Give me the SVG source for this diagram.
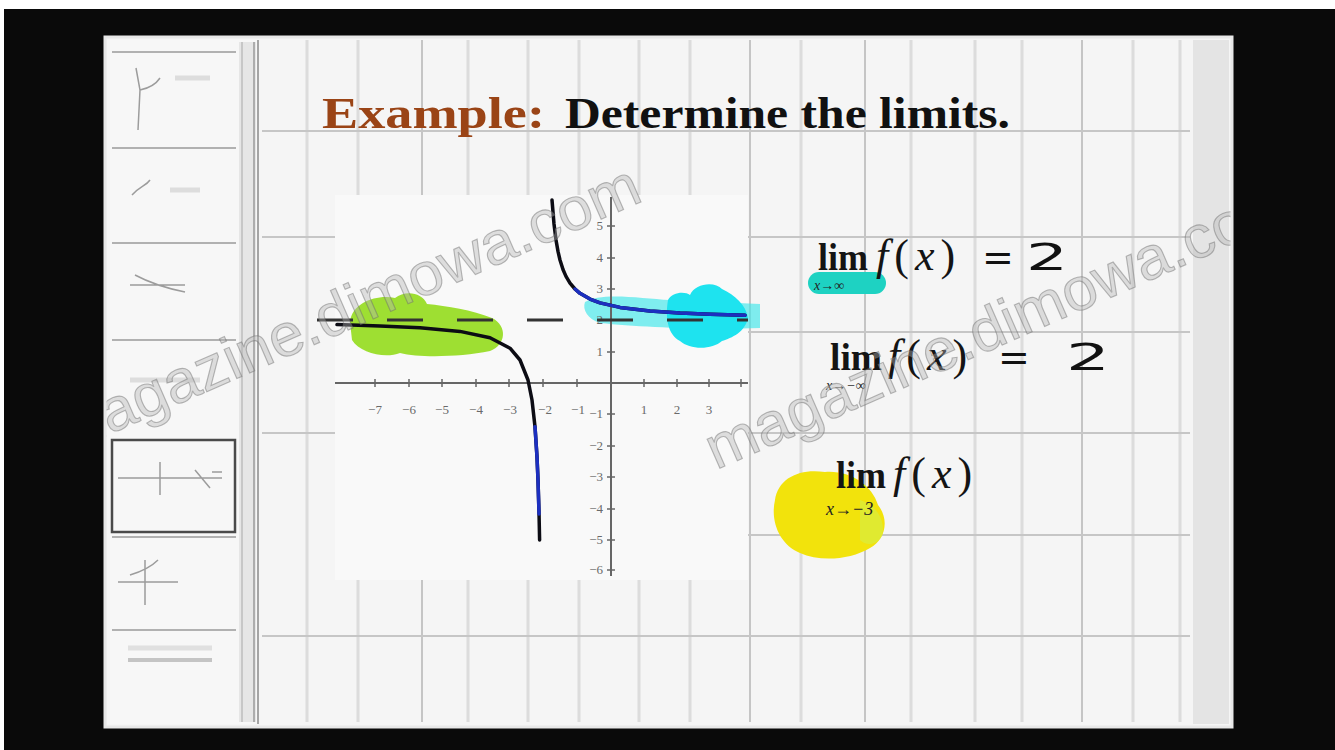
<svg xmlns="http://www.w3.org/2000/svg" width="1335" height="750" viewBox="0 0 1335 750">
<style>
.vline{stroke:#dcdcdc;stroke-width:3}
.vdark{stroke:#b4b4b4;stroke-width:1.5}
.hline{stroke:#c6c6c6;stroke-width:2}
.sep{stroke:#9a9a9a;stroke-width:1.5}
.sk{stroke:#9c9c9c;stroke-width:1.5;fill:none}
.tick{font-family:"Liberation Serif",serif;font-size:13px;fill:#6a6a6a}
.lim{font-family:"Liberation Serif",serif;font-weight:bold;font-size:38px;fill:#141414}
.fx{font-family:"Liberation Serif",serif;font-size:44px;fill:#141414;letter-spacing:6px}
.it{font-style:italic}
.hand{font-family:"DejaVu Sans",sans-serif;font-size:38px;fill:#111}
.sub{font-family:"Liberation Serif",serif;font-style:italic;font-size:18px;fill:#222}
.curve{fill:none;stroke:#0c0c14;stroke-width:3.5;stroke-linejoin:round;stroke-linecap:round}
.blue{fill:none;stroke:#1c2fc0;stroke-width:3.5;stroke-linejoin:round;stroke-linecap:round}
.wm{font-family:"Liberation Sans",sans-serif;font-size:60px;fill:#b4b4b4;fill-opacity:0.4;stroke:#6a6a6a;stroke-opacity:0.45;stroke-width:1.1}
</style>
<defs>
<clipPath id="frame"><rect x="105" y="37" width="1127" height="690"/></clipPath>
</defs>
<rect width="1335" height="750" fill="#ffffff"/>
<rect x="4" y="9" width="1331" height="741" fill="#0a0a0a"/>
<g id="screen">
<rect x="105" y="37" width="1127" height="690" fill="#f5f5f5"/>
<rect x="1193" y="40" width="36" height="684" fill="#e4e4e4"/>
<g id="grid">
<line class="vline" x1="307" y1="40" x2="307" y2="722"/>
<line class="vline" x1="358" y1="40" x2="358" y2="722"/>
<line class="vdark" x1="422" y1="40" x2="422" y2="722"/>
<line class="vline" x1="468" y1="40" x2="468" y2="722"/>
<line class="vline" x1="528" y1="40" x2="528" y2="722"/>
<line class="vline" x1="579" y1="40" x2="579" y2="722"/>
<line class="vline" x1="639" y1="40" x2="639" y2="722"/>
<line class="vline" x1="690" y1="40" x2="690" y2="722"/>
<line class="vdark" x1="750" y1="40" x2="750" y2="722"/>
<line class="vline" x1="801" y1="40" x2="801" y2="722"/>
<line class="vdark" x1="865" y1="40" x2="865" y2="722"/>
<line class="vline" x1="911" y1="40" x2="911" y2="722"/>
<line class="vline" x1="975" y1="40" x2="975" y2="722"/>
<line class="vline" x1="1022" y1="40" x2="1022" y2="722"/>
<line class="vdark" x1="1082" y1="40" x2="1082" y2="722"/>
<line class="vline" x1="1133" y1="40" x2="1133" y2="722"/>
<line class="vline" x1="1180" y1="40" x2="1180" y2="722"/>
<line class="hline" x1="262" y1="131" x2="1190" y2="131"/>
<line class="hline" x1="262" y1="237" x2="335" y2="237"/>
<line class="hline" x1="745" y1="237" x2="1190" y2="237"/>
<line class="hline" x1="745" y1="332" x2="1190" y2="332"/>
<line class="hline" x1="262" y1="433" x2="335" y2="433"/>
<line class="hline" x1="745" y1="433" x2="1190" y2="433"/>
<line class="hline" x1="745" y1="535" x2="1190" y2="535"/>
<line class="hline" x1="262" y1="636" x2="1190" y2="636"/>
</g>
</g>
<g id="sidebar">
<rect x="107" y="40" width="150" height="684" fill="#f7f7f7"/>
<rect x="239" y="42" width="17" height="680" fill="#e6e6e6"/>
<line x1="242" y1="42" x2="242" y2="722" stroke="#bdbdbd" stroke-width="1.5"/>
<line x1="254" y1="42" x2="254" y2="722" stroke="#9a9a9a" stroke-width="1.5"/>
<line x1="258" y1="40" x2="258" y2="724" stroke="#8a8a8a" stroke-width="1.5"/>
<line class="sep" x1="112" y1="52" x2="236" y2="52"/>
<line class="sep" x1="112" y1="148" x2="236" y2="148"/>
<line class="sep" x1="112" y1="243" x2="236" y2="243"/>
<line class="sep" x1="112" y1="340" x2="236" y2="340"/>
<line class="sep" x1="112" y1="537" x2="236" y2="537"/>
<line class="sep" x1="112" y1="630" x2="236" y2="630"/>
<g id="thumb1"><path class="sk" d="M136,68 L140,90 L138,130 M140,90 C150,88 156,84 160,78"/><line x1="175" y1="78" x2="210" y2="78" stroke="#dddddd" stroke-width="5"/></g>
<g id="thumb2"><path class="sk" d="M132,195 C140,186 146,186 150,180"/><line x1="170" y1="190" x2="200" y2="190" stroke="#dddddd" stroke-width="5"/></g>
<g id="thumb3"><path class="sk" d="M130,285 L185,285 M135,275 C150,283 165,288 185,292"/></g>
<g id="thumb4"><line x1="130" y1="380" x2="200" y2="380" stroke="#dddddd" stroke-width="5"/></g>
<g id="thumb5"><rect x="112" y="440" width="123" height="92" fill="none" stroke="#4a4a4a" stroke-width="2.5"/><path class="sk" d="M118,478 L222,478 M160,462 L160,495 M195,470 L210,488 M212,472 L222,472" stroke="#555"/></g>
<g id="thumb6"><path class="sk" d="M118,582 L178,582 M145,560 L145,605 M130,575 C140,572 150,568 158,560"/></g>
<g id="thumb7"><line x1="128" y1="660" x2="212" y2="660" stroke="#c4c4c4" stroke-width="4"/><line x1="128" y1="648" x2="212" y2="648" stroke="#e0e0e0" stroke-width="5"/></g>
</g>
<g id="title">
<text x="322" y="128" textLength="223" lengthAdjust="spacingAndGlyphs" style="font-family:'Liberation Serif',serif;font-weight:bold;font-size:44px;fill:#9a4416">Example:</text>
<text x="565" y="128" textLength="445" lengthAdjust="spacingAndGlyphs" style="font-family:'Liberation Serif',serif;font-weight:bold;font-size:44px;fill:#111">Determine the limits.</text>
</g>
<g id="graph">
<rect x="335" y="195" width="413" height="385" fill="#f9f9f9"/>
<g id="highlights">
<path d="M350,322 C352,302 378,294 395,298 C405,290 422,292 427,304 C447,306 472,310 492,318 C508,326 506,345 490,351 C460,357 420,358 400,353 C385,359 360,353 352,340 Z" fill="#94dc1c" fill-opacity="0.9"/>
<path d="M585,302 C600,292 640,298 670,300 L760,304 L760,328 C700,330 640,327 600,323 C588,319 582,310 585,302 Z" fill="#3ee6ea" fill-opacity="0.65"/>
<path d="M668,300 C672,292 685,291 690,295 C695,283 715,281 722,289 C735,295 746,305 748,318 C745,332 732,338 722,341 C712,350 690,350 680,341 C668,335 665,318 668,300 Z" fill="#1ee3ef"/>
</g>
<line x1="335" y1="383" x2="748" y2="383" stroke="#666" stroke-width="2"/>
<line x1="611" y1="197" x2="611" y2="576" stroke="#666" stroke-width="2"/>
<g stroke="#666" stroke-width="1.5">
<line x1="375" y1="379" x2="375" y2="387"/><line x1="409" y1="379" x2="409" y2="387"/><line x1="442" y1="379" x2="442" y2="387"/><line x1="476" y1="379" x2="476" y2="387"/><line x1="509" y1="379" x2="509" y2="387"/><line x1="543" y1="379" x2="543" y2="387"/><line x1="577" y1="379" x2="577" y2="387"/><line x1="644" y1="379" x2="644" y2="387"/><line x1="677" y1="379" x2="677" y2="387"/><line x1="709" y1="379" x2="709" y2="387"/><line x1="741" y1="379" x2="741" y2="387"/>
<line x1="607" y1="226" x2="615" y2="226"/><line x1="607" y1="258" x2="615" y2="258"/><line x1="607" y1="289" x2="615" y2="289"/><line x1="607" y1="320" x2="615" y2="320"/><line x1="607" y1="352" x2="615" y2="352"/><line x1="607" y1="414" x2="615" y2="414"/><line x1="607" y1="446" x2="615" y2="446"/><line x1="607" y1="477" x2="615" y2="477"/><line x1="607" y1="509" x2="615" y2="509"/><line x1="607" y1="540" x2="615" y2="540"/><line x1="607" y1="570" x2="615" y2="570"/>
</g>
<g class="tick" text-anchor="middle">
<text x="375" y="414">−7</text><text x="409" y="414">−6</text><text x="442" y="414">−5</text><text x="476" y="414">−4</text><text x="510" y="414">−3</text><text x="545" y="414">−2</text><text x="578" y="414">−1</text><text x="644" y="414">1</text><text x="677" y="414">2</text><text x="709" y="414">3</text>
</g>
<g class="tick" text-anchor="end">
<text x="603" y="230">5</text><text x="603" y="262">4</text><text x="603" y="293">3</text><text x="603" y="324">2</text><text x="603" y="356">1</text><text x="603" y="418">−1</text><text x="603" y="450">−2</text><text x="603" y="481">−3</text><text x="603" y="513">−4</text><text x="603" y="544">−5</text><text x="603" y="574">−6</text>
</g>
<line x1="317" y1="320" x2="748" y2="320" stroke="#333" stroke-width="3" stroke-dasharray="36 34"/>
<path class="curve" d="M552,200 L554,224 L556,240 L558,251.4 L560,260 L563,269.5 L566,276.4 L570,283.1 L575,289 L580,293.3 L590,299.1 L600,302.9 L620,307.4 L650,310.9 L680,312.9 L710,314.2 L745,315.2"/>
<path class="curve" d="M337,324.6 L380,325.9 L420,327.7 L460,331.4 L490,337.8 L510,348.2 L520,360 L528,380 L532,400 L535,426.7 L537,457 L538,480 L539,512 L539.6,540"/>
<path class="blue" d="M575,289 L580,293.3 L590,299.1 L600,302.9 L620,307.4 L650,310.9 L680,312.9 L710,314.2 L745,315.2"/>
<path class="blue" d="M535,426.7 L537,457 L538,480 L539,514"/>
</g>
<g id="limit1">
<rect x="808" y="272" width="78" height="22" rx="11" fill="#1ed2c2"/>
<text class="lim" x="818" y="270" textLength="50" lengthAdjust="spacingAndGlyphs">lim</text>
<text class="sub" x="814" y="290" style="font-size:14px" fill="#1a6a60">x→∞</text>
<text class="fx" x="876" y="270"><tspan class="it">f</tspan>(<tspan class="it">x</tspan>)</text>
<text class="hand" x="982" y="270">=</text>
<text class="hand" x="1026" y="270" textLength="42" lengthAdjust="spacingAndGlyphs">2</text>
</g>
<g id="limit2">
<text class="lim" x="830" y="370" textLength="52" lengthAdjust="spacingAndGlyphs">lim</text>
<text class="sub" x="826" y="390" style="font-size:14px">x→−∞</text>
<text class="fx" x="888" y="370"><tspan class="it">f</tspan>(<tspan class="it">x</tspan>)</text>
<text class="hand" x="998" y="370">=</text>
<text class="hand" x="1066" y="370" textLength="44" lengthAdjust="spacingAndGlyphs">2</text>
</g>
<g id="limit3">
<path d="M775,500 C778,478 800,468 825,472 C850,470 872,485 878,505 C890,520 885,540 870,548 C850,560 820,562 800,553 C780,545 770,522 775,500 Z" fill="#f2e30c"/>
<path d="M860,500 C876,505 886,520 882,536 C876,546 866,546 860,540 Z" fill="#d8ec40" fill-opacity="0.7"/>
<text class="lim" x="836" y="488" textLength="50" lengthAdjust="spacingAndGlyphs">lim</text>
<text class="sub" x="826" y="515">x→−3</text>
<text class="fx" x="893" y="488"><tspan class="it">f</tspan>(<tspan class="it">x</tspan>)</text>
</g>
<g id="watermark" clip-path="url(#frame)">
<text class="wm" x="62" y="455" transform="rotate(-23.6 62 455)" textLength="636" lengthAdjust="spacingAndGlyphs">magazine.dimowa.com</text>
<text class="wm" x="716" y="470" transform="rotate(-23.6 716 470)" textLength="636" lengthAdjust="spacingAndGlyphs">magazine.dimowa.com</text>
</g>
<rect x="105" y="37" width="1127" height="690" fill="none" stroke="#e8e8e8" stroke-width="3"/>
</svg>
